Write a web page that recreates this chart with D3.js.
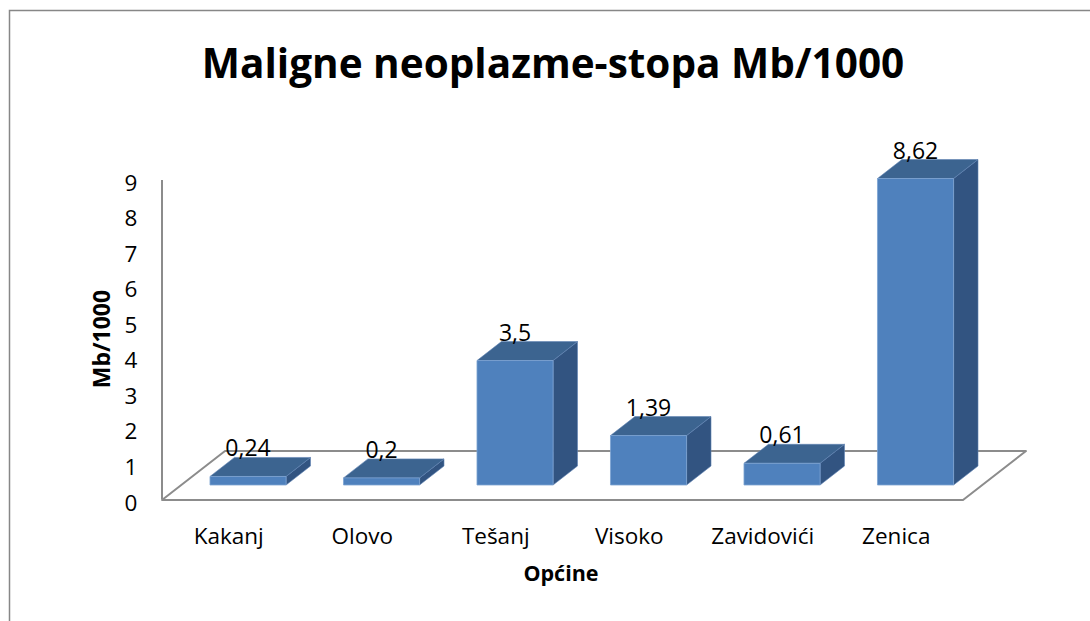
<!DOCTYPE html>
<html>
<head>
<meta charset="utf-8">
<script src="https://cdn.jsdelivr.net/npm/d3@7"></script>
<style>
  html, body { margin: 0; padding: 0; background: #fff; }
  svg { display: block; }
  text { font-family: "Open Sans", "Noto Sans", sans-serif; fill: #000; }
</style>
</head>
<body>
<svg id="chart" width="1090" height="621"></svg>
<script>
// Data
const categories = ["Kakanj", "Olovo", "Tešanj", "Visoko", "Zavidovići", "Zenica"];
const values = [0.24, 0.2, 3.5, 1.39, 0.61, 8.62];
const valueLabels = ["0,24", "0,2", "3,5", "1,39", "0,61", "8,62"];
const yTicks = [0, 1, 2, 3, 4, 5, 6, 7, 8, 9];

const svg = d3.select("#chart");

// Chart frame
svg.append("rect")
  .attr("x", 9.5).attr("y", 10.5)
  .attr("width", 1200).attr("height", 800)
  .attr("fill", "#fff")
  .attr("stroke", "#878787").attr("stroke-width", 1.5);

// Title
svg.append("text")
  .attr("x", 553).attr("y", 78)
  .attr("text-anchor", "middle")
  .attr("font-size", 40.5).attr("font-weight", 700)
  .text("Maligne neoplazme-stopa Mb/1000");

// Scales on the front plane of the floor
const floorFrontY = 500;
const x = d3.scaleBand().domain(categories).range([162, 963]).paddingInner(0.43).paddingOuter(0.215);
const y = d3.scaleLinear().domain([0, 9]).range([floorFrontY, 180]);

// Depth projection: full floor depth shifts by (DX, -DY)
const DX = 63, DY = 49;
const d0 = 15 / 49, d1 = 34 / 49;   // bar front / back depth
const proj = (px, py, d) => [px + d * DX, py - d * DY];

// Floor
const fl = [proj(162, floorFrontY, 0), proj(963, floorFrontY, 0), proj(963, floorFrontY, 1), proj(162, floorFrontY, 1)];
svg.append("polygon")
  .attr("points", fl.map(p => p.join(",")).join(" "))
  .attr("fill", "#fff")
  .attr("stroke", "#8c8c8c").attr("stroke-width", 2)
  .attr("stroke-linejoin", "round");

// Vertical axis line
svg.append("line")
  .attr("x1", 162).attr("x2", 162)
  .attr("y1", y(9)).attr("y2", y(0) - 1)
  .attr("stroke", "#8c8c8c").attr("stroke-width", 2);

// Y tick labels
svg.append("g").selectAll("text").data(yTicks).join("text")
  .attr("x", 131).attr("y", d => y(d) + 2)
  .attr("text-anchor", "middle")
  .attr("dominant-baseline", "central")
  .attr("font-size", 22.5)
  .text(d => d);

// Y axis title
svg.append("text")
  .attr("transform", "translate(110,339) rotate(-90)")
  .attr("text-anchor", "middle")
  .attr("font-size", 23).attr("font-weight", 700)
  .text("Mb/1000");

// Bars
const bars = svg.append("g").selectAll("g").data(categories).join("g");
bars.each(function (c, i) {
  const g = d3.select(this);
  const x0 = x(c), x1 = x(c) + x.bandwidth();
  const top = y(values[i]), base = y(0);
  const fTL = proj(x0, top, d0), fTR = proj(x1, top, d0), fBR = proj(x1, base, d0), fBL = proj(x0, base, d0);
  const bTL = proj(x0, top, d1), bTR = proj(x1, top, d1), bBR = proj(x1, base, d1);
  const poly = pts => pts.map(p => p.join(",")).join(" ");
  // side face
  g.append("polygon").attr("points", poly([fTR, bTR, bBR, fBR]))
    .attr("fill", "#325481").attr("stroke", "#5f83b3").attr("stroke-width", 0.6);
  // top face
  g.append("polygon").attr("points", poly([fTL, bTL, bTR, fTR]))
    .attr("fill", "#3c6490").attr("stroke", "#5f83b3").attr("stroke-width", 0.6);
  // front face
  g.append("polygon").attr("points", poly([fTL, fTR, fBR, fBL]))
    .attr("fill", "#4f81bd").attr("stroke", "#7ea3d2").attr("stroke-width", 0.8);
  // value label
  g.append("text")
    .attr("x", (fTL[0] + fTR[0]) / 2)
    .attr("y", bTL[1] - 1)
    .attr("text-anchor", "middle")
    .attr("font-size", 23)
    .text(valueLabels[i]);
});

// Category labels
svg.append("g").selectAll("text").data(categories).join("text")
  .attr("x", d => x(d) + x.bandwidth() / 2)
  .attr("y", 544)
  .attr("text-anchor", "middle")
  .attr("font-size", 22.5)
  .text(d => d);

// X axis title
svg.append("text")
  .attr("x", 561).attr("y", 581)
  .attr("text-anchor", "middle")
  .attr("font-size", 21.5).attr("font-weight", 700)
  .text("Općine");
</script>
</body>
</html>
